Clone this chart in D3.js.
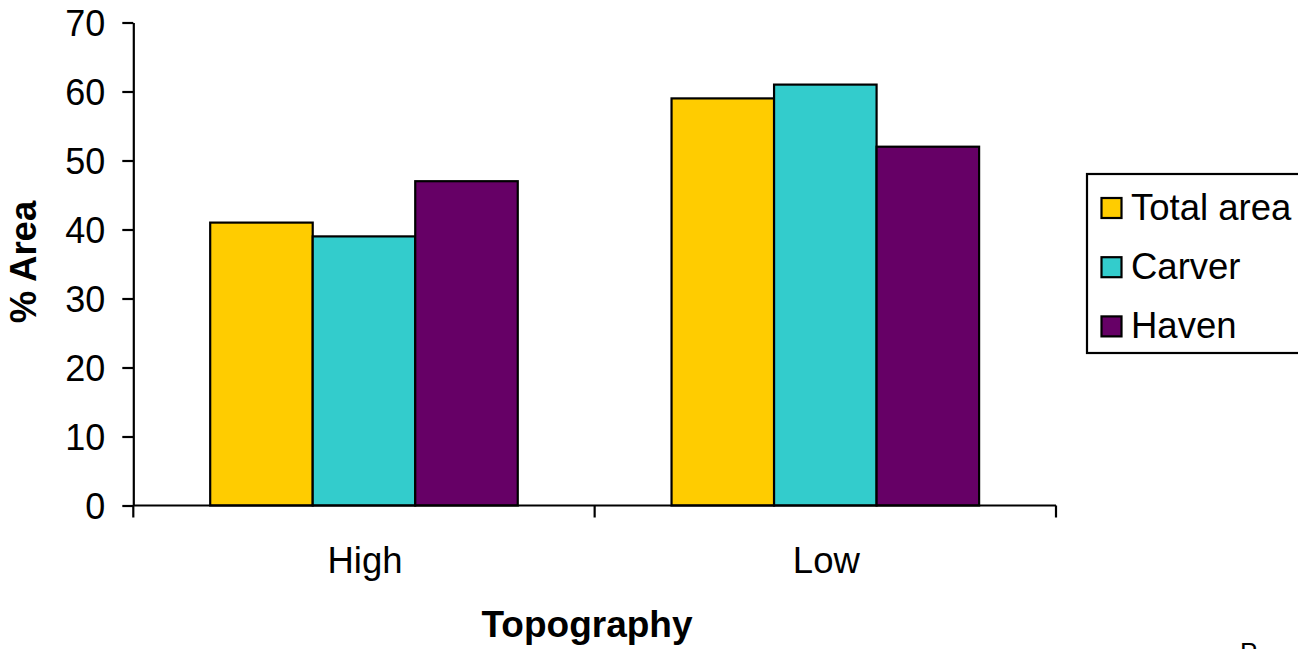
<!DOCTYPE html>
<html>
<head>
<meta charset="utf-8">
<script src="https://cdn.jsdelivr.net/npm/d3@7"></script>
<style>
  html, body { margin: 0; padding: 0; background: #fff; overflow: hidden; }
  svg { display: block; }
  text { font-family: "Liberation Sans", Arial, sans-serif; fill: #000; }
</style>
</head>
<body>
<svg id="chart" width="1298" height="649"></svg>
<script>
const categories = ["High", "Low"];
const seriesNames = ["Total area", "Carver", "Haven"];
const totalArea = [41, 59];
const carver = [39, 61];
const haven = [47, 52];
const seriesColors = ["#FFCC00", "#33CCCC", "#660066"];
const yTicks = [0, 10, 20, 30, 40, 50, 60, 70];

const seriesValues = [totalArea, carver, haven];
const svg = d3.select("#chart");

const plot = { left: 133.3, right: 1056, top: 22.5, bottom: 505.5 };

const x0 = d3.scaleBand().domain(categories).range([plot.left, plot.right]).padding(0);
const bw = x0.bandwidth();
const x1 = d3.scaleBand().domain(seriesNames).range([bw / 6, bw * 5 / 6]).padding(0);
const y = d3.scaleLinear().domain([0, 70]).range([plot.bottom, plot.top]);

// bars
const groups = svg.append("g").selectAll("g")
  .data(categories)
  .join("g")
  .attr("transform", d => `translate(${x0(d)},0)`);

groups.selectAll("rect")
  .data((c, i) => seriesNames.map((s, j) => ({ s, j, v: seriesValues[j][i] })))
  .join("rect")
  .attr("x", d => x1(d.s))
  .attr("width", x1.bandwidth())
  .attr("y", d => y(d.v))
  .attr("height", d => y(0) - y(d.v))
  .attr("fill", d => seriesColors[d.j])
  .attr("stroke", "#000")
  .attr("stroke-width", 2.2);

// y axis
const yAxis = d3.axisLeft(y).tickValues(yTicks).tickSize(11).tickPadding(17).tickSizeOuter(0);
const gy = svg.append("g").attr("transform", `translate(${plot.left},0)`).call(yAxis);
gy.select(".domain").attr("stroke", "#000").attr("stroke-width", 2.2);
gy.selectAll(".tick line").attr("stroke", "#000").attr("stroke-width", 2.2);
gy.selectAll(".tick text").attr("font-size", 36).attr("font-family", "Liberation Sans, Arial, sans-serif").attr("dy", "0.36em");

// x axis
const boundaries = [plot.left, ...categories.map(c => x0(c) + bw)];
const gx = svg.append("g");
gx.append("line")
  .attr("x1", plot.left).attr("x2", plot.right)
  .attr("y1", y(0)).attr("y2", y(0))
  .attr("stroke", "#000").attr("stroke-width", 2.2);
gx.selectAll("line.tk").data(boundaries).join("line")
  .attr("class", "tk")
  .attr("x1", d => d).attr("x2", d => d)
  .attr("y1", y(0)).attr("y2", y(0) + 12)
  .attr("stroke", "#000").attr("stroke-width", 2.2);
gx.selectAll("text").data(categories).join("text")
  .attr("x", d => x0(d) + bw / 2 + 1)
  .attr("y", 572.5)
  .attr("text-anchor", "middle")
  .attr("font-size", 36.5)
  .text(d => d);

// axis titles
svg.append("text")
  .attr("x", 587)
  .attr("y", 637)
  .attr("text-anchor", "middle")
  .attr("font-size", 37)
  .attr("font-weight", "bold")
  .text("Topography");

svg.append("text")
  .attr("transform", `translate(36,262) rotate(-90)`)
  .attr("text-anchor", "middle")
  .attr("font-size", 36.5)
  .attr("font-weight", "bold")
  .text("% Area");

// legend
const lg = svg.append("g");
lg.append("rect")
  .attr("x", 1087).attr("y", 174)
  .attr("width", 240).attr("height", 179)
  .attr("fill", "#fff").attr("stroke", "#000").attr("stroke-width", 2.2);
const items = lg.selectAll("g.item").data(seriesNames).join("g")
  .attr("class", "item")
  .attr("transform", (d, i) => `translate(0,${i * 59.2})`);
items.append("rect")
  .attr("x", 1101.5).attr("y", 198)
  .attr("width", 20).attr("height", 20)
  .attr("fill", (d, i) => seriesColors[i])
  .attr("stroke", "#000").attr("stroke-width", 2.2);
items.append("text")
  .attr("x", 1131).attr("y", 220)
  .attr("font-size", 36.5)
  .text(d => d);

// cut-off page footer glyph (partially visible at the bottom edge in the reference)
svg.append("text")
  .attr("x", 1240).attr("y", 661)
  .attr("font-family", "Liberation Serif, Times New Roman, serif")
  .attr("font-size", 26)
  .text("P");
</script>
</body>
</html>
